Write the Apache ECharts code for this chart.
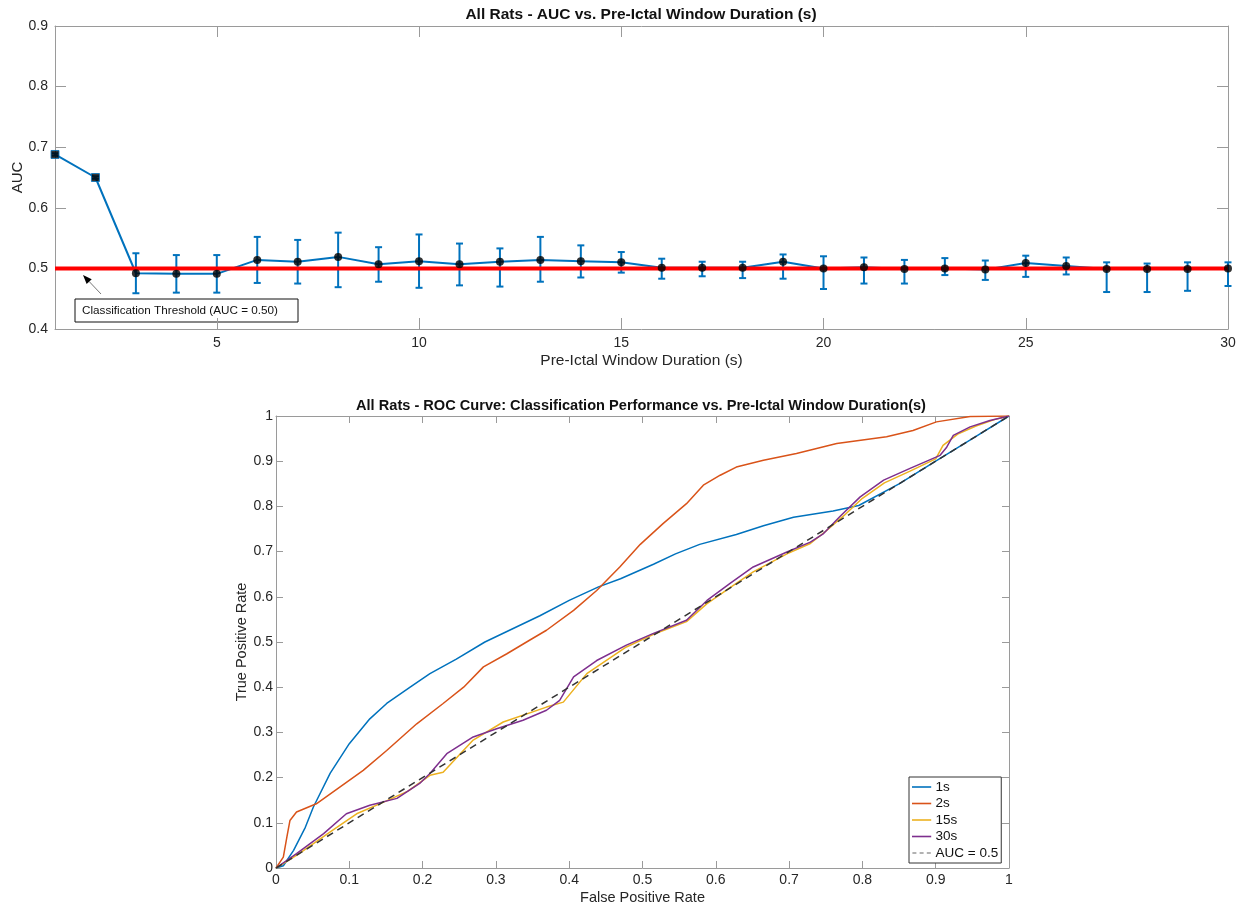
<!DOCTYPE html>
<html>
<head>
<meta charset="utf-8">
<title>All Rats - AUC / ROC</title>
<script src="https://cdn.jsdelivr.net/npm/echarts@6/dist/echarts.min.js"></script>
<style>
  html, body { margin: 0; padding: 0; background: #fff; }
  #container { width: 1243px; height: 906px; }
</style>
</head>
<body>
<div id="container"></div>
<script>
var dom = document.getElementById("container");
var myChart = echarts.init(dom);
var option;

// ---- top plot: mean AUC per window with error bars ----
var windows = [1, 2, 3, 4, 5, 6, 7, 8, 9, 10, 11, 12, 13, 14, 15, 16, 17, 18, 19, 20, 21, 22, 23, 24, 25, 26, 27, 28, 29, 30];
var aucMean = [0.688, 0.650, 0.492, 0.491, 0.491, 0.514, 0.511, 0.519, 0.507, 0.512, 0.507, 0.511, 0.514, 0.512, 0.510,
               0.501, 0.501, 0.501, 0.511, 0.500, 0.502, 0.499, 0.500, 0.498, 0.509, 0.504, 0.499, 0.499, 0.499, 0.500];
var aucLow  = [0.686, 0.648, 0.459, 0.460, 0.460, 0.476, 0.475, 0.469, 0.478, 0.468, 0.472, 0.470, 0.478, 0.485, 0.493,
               0.483, 0.487, 0.484, 0.483, 0.466, 0.475, 0.475, 0.489, 0.481, 0.486, 0.490, 0.461, 0.461, 0.463, 0.471];
var aucHigh = [0.690, 0.652, 0.525, 0.522, 0.522, 0.552, 0.547, 0.559, 0.535, 0.556, 0.541, 0.533, 0.552, 0.538, 0.527,
               0.516, 0.511, 0.511, 0.523, 0.520, 0.518, 0.514, 0.517, 0.513, 0.521, 0.518, 0.510, 0.508, 0.510, 0.510];
var threshold = 0.5;
var topXTicks = [5, 10, 15, 20, 25, 30];

// ---- bottom plot: ROC curves [fpr, tpr] ----
var roc1s = [[0, 0], [0.01, 0.005], [0.024, 0.039], [0.04, 0.09], [0.051, 0.135], [0.074, 0.21], [0.1, 0.275], [0.128, 0.33],
             [0.151, 0.364], [0.183, 0.40], [0.21, 0.43], [0.246, 0.462], [0.285, 0.50], [0.32, 0.527], [0.36, 0.558],
             [0.40, 0.592], [0.44, 0.622], [0.47, 0.64], [0.515, 0.672], [0.545, 0.695], [0.578, 0.716], [0.628, 0.738],
             [0.665, 0.757], [0.706, 0.776], [0.76, 0.79], [0.795, 0.802], [0.85, 0.85], [0.9, 0.9], [0.95, 0.95], [1, 1]];
var roc2s = [[0, 0], [0.01, 0.024], [0.015, 0.07], [0.019, 0.105], [0.028, 0.124], [0.055, 0.142], [0.087, 0.179],
             [0.119, 0.216], [0.151, 0.26], [0.192, 0.319], [0.228, 0.364], [0.256, 0.40], [0.283, 0.445], [0.315, 0.474],
             [0.347, 0.505], [0.369, 0.526], [0.406, 0.57], [0.4375, 0.614], [0.469, 0.666], [0.497, 0.716], [0.528, 0.762],
             [0.56, 0.806], [0.583, 0.847], [0.606, 0.869], [0.628, 0.887], [0.665, 0.902], [0.71, 0.917], [0.765, 0.939],
             [0.833, 0.954], [0.869, 0.968], [0.901, 0.987], [0.947, 0.999], [1, 1]];
var roc15s = [[0, 0], [0.03, 0.03], [0.074, 0.08], [0.11, 0.12], [0.15, 0.148], [0.18, 0.17], [0.21, 0.205], [0.228, 0.212],
              [0.269, 0.283], [0.31, 0.323], [0.369, 0.356], [0.392, 0.367], [0.424, 0.43], [0.478, 0.489], [0.515, 0.517],
              [0.56, 0.545], [0.588, 0.585], [0.619, 0.62], [0.651, 0.655], [0.697, 0.695], [0.729, 0.718], [0.75, 0.745],
              [0.775, 0.78], [0.8, 0.818], [0.83, 0.852], [0.865, 0.878], [0.9, 0.905], [0.91, 0.935], [0.93, 0.96],
              [0.955, 0.978], [0.98, 0.992], [1, 1]];
var roc30s = [[0, 0], [0.028, 0.032], [0.065, 0.076], [0.096, 0.12], [0.128, 0.139], [0.165, 0.154], [0.196, 0.187],
              [0.21, 0.209], [0.233, 0.253], [0.269, 0.29], [0.301, 0.308], [0.337, 0.327], [0.369, 0.349], [0.387, 0.371],
              [0.406, 0.423], [0.4375, 0.459], [0.478, 0.493], [0.515, 0.519], [0.56, 0.548], [0.588, 0.592], [0.619, 0.629],
              [0.651, 0.666], [0.697, 0.699], [0.729, 0.721], [0.747, 0.74], [0.769, 0.777], [0.797, 0.821], [0.829, 0.858],
              [0.865, 0.884], [0.906, 0.913], [0.915, 0.931], [0.924, 0.957], [0.947, 0.976], [0.974, 0.99], [1, 1]];
var rocChance = [[0, 0], [1, 1]];
var rocNames = ["1s", "2s", "15s", "30s", "AUC = 0.5"];

var FONT = "Liberation Sans, Arial, Helvetica, sans-serif";
var AXIS_COLOR = "#9a9a9a";
var TEXT_COLOR = "#262626";
var BLUE = "#0072BD";

// legend icons: a thin solid line, and a dashed one for the chance line
var SOLID_ICON = "path://M0,0H24V2H0Z";
var DASH_ICON = "path://M0,0H5V2H0Z M9,0H14V2H9Z M18,0H23V2H18Z";

// common axis style (MATLAB box look, ticks pointing inside)
function boxAxis(extra) {
  var a = {
    axisLine: { show: true, onZero: false, lineStyle: { color: AXIS_COLOR, width: 1 } },
    axisTick: { show: true, inside: true, length: 7, lineStyle: { color: AXIS_COLOR } },
    axisLabel: { color: TEXT_COLOR, fontFamily: FONT },
    splitLine: { show: false },
    nameMoveOverlap: false,
    nameTextStyle: { color: TEXT_COLOR, fontFamily: FONT }
  };
  for (var k in extra) a[k] = extra[k];
  return a;
}

// arrow for the threshold annotation (figure coordinates, like a MATLAB annotation)
function arrowGraphic(x0, y0, x1, y1) {
  var dx = x1 - x0, dy = y1 - y0;
  var len = Math.sqrt(dx * dx + dy * dy);
  var ux = dx / len, uy = dy / len;
  var bx = x1 - ux * 9, by = y1 - uy * 9;
  var px = -uy * 3.5, py = ux * 3.5;
  return [
    { type: "line", shape: { x1: x0, y1: y0, x2: bx, y2: by }, style: { stroke: "#777", lineWidth: 1 } },
    { type: "polygon", shape: { points: [[x1, y1], [bx + px, by + py], [bx - px, by - py]] }, style: { fill: "#000" } }
  ];
}

var errData = windows.map(function (w, i) { return [w, aucLow[i], aucHigh[i]]; });
var meanData = windows.map(function (w, i) {
  var item = { value: [w, aucMean[i]] };
  if (i < 2) {
    item.symbol = "rect";
    item.itemStyle = { color: "#000", borderColor: BLUE, borderWidth: 1 };
  }
  return item;
});
var threshData = [[windows[0], threshold], [windows[windows.length - 1], threshold]];

option = {
  animation: false,
  backgroundColor: "#fff",
  textStyle: { fontFamily: FONT },
  title: [
    {
      text: "All Rats - AUC vs. Pre-Ictal Window Duration (s)",
      left: 636, top: 2, textAlign: "center",
      textStyle: { fontSize: 15.5, fontWeight: "bold", color: "#111", fontFamily: FONT }
    },
    {
      text: "All Rats - ROC Curve: Classification Performance vs. Pre-Ictal Window Duration(s)",
      left: 636, top: 393, textAlign: "center",
      textStyle: { fontSize: 14.6, fontWeight: "bold", color: "#111", fontFamily: FONT }
    }
  ],
  grid: [
    { left: 55, top: 26, width: 1173, height: 303, outerBoundsMode: "none", containLabel: false },
    { left: 276, top: 416, width: 733, height: 452, outerBoundsMode: "none", containLabel: false }
  ],
  legend: {
    data: rocNames.map(function (n, i) {
      return { name: n, icon: i === rocNames.length - 1 ? DASH_ICON : SOLID_ICON };
    }),
    orient: "vertical",
    left: 909, top: 777,
    itemWidth: 22, itemHeight: 1.6, itemGap: 2.5,
    padding: [3, 3, 3, 3],
    borderColor: "#333", borderWidth: 1, backgroundColor: "#fff",
    textStyle: { fontSize: 13.5, color: "#111", fontFamily: FONT, padding: [0, 0, 0, -2] }
  },
  xAxis: [
    boxAxis({
      type: "value", gridIndex: 0, min: 1, max: 30, position: "bottom",
      axisTick: { show: true, inside: true, length: 11, customValues: topXTicks, lineStyle: { color: AXIS_COLOR } },
      axisLabel: { customValues: topXTicks, fontSize: 14, margin: 7, color: TEXT_COLOR, fontFamily: FONT },
      name: "Pre-Ictal Window Duration (s)", nameLocation: "middle", nameGap: 24,
      nameTextStyle: { fontSize: 15.5, color: TEXT_COLOR, fontFamily: FONT }
    }),
    boxAxis({
      type: "value", gridIndex: 0, min: 1, max: 30, position: "top",
      axisTick: { show: true, inside: true, length: 11, customValues: topXTicks, lineStyle: { color: AXIS_COLOR } },
      axisLabel: { show: false }
    }),
    boxAxis({
      type: "value", gridIndex: 1, min: 0, max: 1, interval: 0.1, position: "bottom",
      axisLabel: { fontSize: 14, margin: 5, color: TEXT_COLOR, fontFamily: FONT },
      name: "False Positive Rate", nameLocation: "middle", nameGap: 22,
      nameTextStyle: { fontSize: 14.5, color: TEXT_COLOR, fontFamily: FONT }
    }),
    boxAxis({
      type: "value", gridIndex: 1, min: 0, max: 1, interval: 0.1, position: "top",
      axisLabel: { show: false }
    })
  ],
  yAxis: [
    boxAxis({
      type: "value", gridIndex: 0, min: 0.4, max: 0.9, interval: 0.1, position: "left",
      axisTick: { show: true, inside: true, length: 11, lineStyle: { color: AXIS_COLOR } },
      axisLabel: { fontSize: 14, margin: 7, color: TEXT_COLOR, fontFamily: FONT, formatter: function (v) { return v.toFixed(1); } },
      name: "AUC", nameLocation: "middle", nameGap: 30,
      nameTextStyle: { fontSize: 15, color: TEXT_COLOR, fontFamily: FONT }
    }),
    boxAxis({
      type: "value", gridIndex: 0, min: 0.4, max: 0.9, interval: 0.1, position: "right",
      axisTick: { show: true, inside: true, length: 11, lineStyle: { color: AXIS_COLOR } },
      axisLabel: { show: false }
    }),
    boxAxis({
      type: "value", gridIndex: 1, min: 0, max: 1, interval: 0.1, position: "left",
      axisLabel: { fontSize: 14, margin: 3, color: TEXT_COLOR, fontFamily: FONT },
      name: "True Positive Rate", nameLocation: "middle", nameGap: 27,
      nameTextStyle: { fontSize: 14.5, color: TEXT_COLOR, fontFamily: FONT }
    }),
    boxAxis({
      type: "value", gridIndex: 1, min: 0, max: 1, interval: 0.1, position: "right",
      axisLabel: { show: false }
    })
  ],
  series: [
    {
      name: "errorbars", type: "custom", xAxisIndex: 0, yAxisIndex: 0,
      data: errData, encode: { x: 0, y: [1, 2] }, clip: false, z: 2,
      renderItem: function (params, api) {
        var x = api.value(0);
        var lo = api.coord([x, api.value(1)]);
        var hi = api.coord([x, api.value(2)]);
        var w = 3.5;
        var st = { stroke: BLUE, lineWidth: 2 };
        return {
          type: "group",
          children: [
            { type: "line", shape: { x1: lo[0], y1: lo[1], x2: hi[0], y2: hi[1] }, style: st },
            { type: "line", shape: { x1: lo[0] - w, y1: lo[1], x2: lo[0] + w, y2: lo[1] }, style: st },
            { type: "line", shape: { x1: hi[0] - w, y1: hi[1], x2: hi[0] + w, y2: hi[1] }, style: st }
          ]
        };
      }
    },
    {
      name: "mean line", type: "line", xAxisIndex: 0, yAxisIndex: 0,
      data: windows.map(function (w, i) { return [w, aucMean[i]]; }),
      showSymbol: false, symbol: "none", clip: false, z: 3,
      lineStyle: { color: BLUE, width: 2 }
    },
    {
      name: "threshold", type: "line", xAxisIndex: 0, yAxisIndex: 0,
      data: threshData, symbol: "none", z: 4,
      lineStyle: { color: "#ff0000", width: 4 }
    },
    {
      name: "mean", type: "scatter", xAxisIndex: 0, yAxisIndex: 0,
      data: meanData, symbol: "circle", symbolSize: 8, clip: false, z: 5,
      itemStyle: { color: "#000" }
    },
    {
      name: "1s", type: "line", xAxisIndex: 2, yAxisIndex: 2, data: roc1s,
      symbol: "none", lineStyle: { color: "#0072BD", width: 1.5 }, itemStyle: { color: "#0072BD" }, z: 3
    },
    {
      name: "2s", type: "line", xAxisIndex: 2, yAxisIndex: 2, data: roc2s,
      symbol: "none", lineStyle: { color: "#D95319", width: 1.5 }, itemStyle: { color: "#D95319" }, z: 3
    },
    {
      name: "15s", type: "line", xAxisIndex: 2, yAxisIndex: 2, data: roc15s,
      symbol: "none", lineStyle: { color: "#EDB120", width: 1.5 }, itemStyle: { color: "#EDB120" }, z: 3
    },
    {
      name: "30s", type: "line", xAxisIndex: 2, yAxisIndex: 2, data: roc30s,
      symbol: "none", lineStyle: { color: "#7E2F8E", width: 1.5 }, itemStyle: { color: "#7E2F8E" }, z: 4
    },
    {
      name: "AUC = 0.5", type: "line", xAxisIndex: 2, yAxisIndex: 2, data: rocChance,
      symbol: "none", lineStyle: { color: "#333", width: 1.5, type: [7, 5] }, itemStyle: { color: "#999" }, z: 5
    }
  ],
  graphic: [
    {
      type: "group",
      children: [
        { type: "rect", shape: { x: 75, y: 299, width: 223, height: 23 }, style: { fill: "#fff", stroke: "#111", lineWidth: 1 } },
        {
          type: "text", x: 82, y: 311,
          style: { text: "Classification Threshold (AUC = 0.50)", fill: "#111", font: "11.7px " + FONT, verticalAlign: "middle" }
        }
      ].concat(arrowGraphic(101, 294, 83, 275))
    }
  ]
};

if (option && typeof option === "object") {
  myChart.setOption(option, true);
}
</script>
</body>
</html>
